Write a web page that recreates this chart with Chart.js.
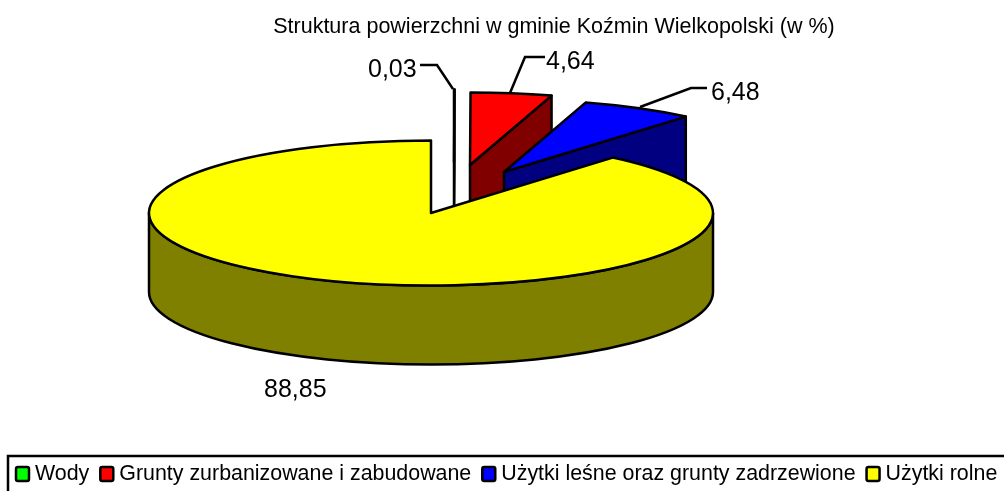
<!DOCTYPE html>
<html>
<head>
<meta charset="utf-8">
<style>
  body { margin: 0; background: #fff; }
  canvas { display: block; }
</style>
<script src="https://cdn.jsdelivr.net/npm/chart.js@4/dist/chart.umd.min.js"></script>
</head>
<body>
<canvas id="pieChart" width="1004" height="491"></canvas>
<script>
/************ dane ************/
const categories = ['Wody', 'Grunty zurbanizowane i zabudowane', 'Użytki leśne oraz grunty zadrzewione', 'Użytki rolne'];
const values = [0.03, 4.64, 6.48, 88.85];
const topColors = ['#00ff00', '#ff0000', '#0000ff', '#ffff00'];
const sideColors = ['#008000', '#800000', '#000080', '#808000'];

/************ wygląd 3D ************/
const centerX = 431, centerY = 213;
const radiusX = 282, radiusY = 72.5, depth = 79;
const explodeX = [23, 39, 73, 0];
const explodeY = [-51, -48, -41, 0];

// etykieta: pozycja tekstu i linia odniesienia
const labelPos = [
  { x: 368, y: 70, line: [[420, 65], [437, 65], [453, 89]] },
  { x: 546, y: 62, line: [[545, 57], [525, 57], [510, 93]] },
  { x: 711, y: 93, line: [[707, 88], [691, 88], [640, 107]] },
  { x: 264, y: 390, line: [] },
];

const pie3d = {
  id: 'pie3d',
  beforeDatasetDraw(chart, args) {
    const ctx = chart.ctx;
    args.meta.data.forEach((arc, i) => drawSlice(ctx, arc, i));
    return false; // plaster rysowany powyżej
  },
  afterDraw(chart) {
    const ctx = chart.ctx;
    drawLabels(ctx);
    drawLegend(ctx);
  },
};

function drawSlice(ctx, arc, i) {
  const { x, y, outerRadius: r, startAngle, endAngle } = arc;
  const sx = radiusX / r, sy = radiusY / r;
  const ox = centerX + explodeX[i], oy = centerY + explodeY[i];

  // przekształcenie koła na elipsę
  const squash = (dy) => {
    ctx.translate(ox, oy + dy);
    ctx.scale(sx, sy);
    ctx.translate(-x, -y);
  };
  const px = (a) => ox + radiusX * Math.cos(a);
  const py = (a) => oy + radiusY * Math.sin(a);

  ctx.save();
  ctx.lineWidth = 2.5;
  ctx.lineJoin = 'round';
  ctx.strokeStyle = '#000';

  // ścianka cięcia (od strony widza)
  if (endAngle > -Math.PI / 2 && endAngle < Math.PI / 2) {
    ctx.beginPath();
    ctx.moveTo(ox, oy);
    ctx.lineTo(px(endAngle), py(endAngle));
    ctx.lineTo(px(endAngle), py(endAngle) + depth);
    ctx.lineTo(ox, oy + depth);
    ctx.closePath();
    ctx.fillStyle = sideColors[i];
    ctx.fill();
    ctx.stroke();
  }

  // boczna ścianka
  const lo = Math.max(startAngle, 0), hi = Math.min(endAngle, Math.PI);
  if (hi > lo) {
    ctx.beginPath();
    ctx.save();
    squash(0);
    ctx.arc(x, y, r, lo, hi);
    ctx.restore();
    ctx.save();
    squash(depth);
    ctx.arc(x, y, r, hi, lo, true);
    ctx.restore();
    ctx.closePath();
    ctx.fillStyle = sideColors[i];
    ctx.fill();
    ctx.stroke();
  }

  // górna powierzchnia
  ctx.save();
  squash(0);
  arc.draw(ctx);
  ctx.restore();

  ctx.beginPath();
  ctx.moveTo(ox, oy);
  ctx.save();
  squash(0);
  ctx.arc(x, y, r, startAngle, endAngle);
  ctx.restore();
  ctx.closePath();
  ctx.stroke();
  ctx.restore();
}

function drawLabels(ctx) {
  ctx.save();
  ctx.font = '25px "Liberation Sans"';
  ctx.fillStyle = '#000';
  ctx.textBaseline = 'middle';
  ctx.strokeStyle = '#000';
  ctx.lineWidth = 2.5;
  values.forEach((v, i) => {
    const pos = labelPos[i];
    ctx.fillText(v.toFixed(2).replace('.', ','), pos.x, pos.y);
    if (pos.line.length) {
      ctx.beginPath();
      pos.line.forEach((p, k) => (k ? ctx.lineTo(p[0], p[1]) : ctx.moveTo(p[0], p[1])));
      ctx.stroke();
    }
  });
  ctx.restore();
}

function drawLegend(ctx) {
  ctx.save();
  ctx.strokeStyle = '#000';
  ctx.lineWidth = 2.5;
  ctx.strokeRect(8, 456, 1100, 100); // ramka wychodzi poza prawy i dolny brzeg
  ctx.font = '21.4px "Liberation Sans"';
  ctx.textBaseline = 'middle';
  let lx = 16;
  categories.forEach((name, i) => {
    ctx.fillStyle = topColors[i];
    ctx.beginPath();
    ctx.roundRect(lx, 467, 13, 14, 2);
    ctx.fill();
    ctx.stroke();
    ctx.fillStyle = '#000';
    ctx.fillText(name, lx + 19, 474);
    lx += 19 + ctx.measureText(name).width + 11;
  });
  ctx.restore();
}

new Chart(document.getElementById('pieChart'), {
  type: 'pie',
  data: {
    labels: categories,
    datasets: [{
      data: values,
      backgroundColor: topColors,
      borderWidth: 0,
    }],
  },
  options: {
    responsive: false,
    animation: false,
    layout: { padding: { left: 104, top: 0 } },
    plugins: {
      legend: { display: false },
      tooltip: { enabled: false },
      title: {
        display: true,
        text: 'Struktura powierzchni w gminie Koźmin Wielkopolski (w %)',
        color: '#000',
        font: { family: '"Liberation Sans"', size: 21.5, weight: 'normal' },
        padding: { top: 14, bottom: 10 },
      },
    },
  },
  plugins: [pie3d],
});
</script>
</body>
</html>
